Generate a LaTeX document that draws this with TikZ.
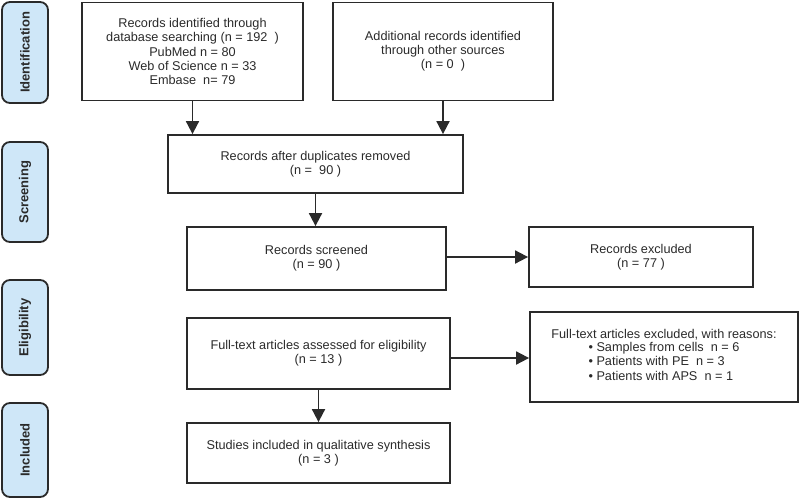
\documentclass[tikz,border=0pt]{standalone}
\usepackage{fontspec}
\setmainfont{Liberation Sans}
\usetikzlibrary{arrows.meta}
\definecolor{sidefill}{HTML}{CFE7F8}
\definecolor{ink}{HTML}{2A2A2A}
\begin{document}
\begin{tikzpicture}[x=1pt,y=-1pt,
  box/.style={draw=ink,line width=1.8pt,align=center,inner sep=2pt,font=\fontsize{12.7}{14.2}\selectfont,text=ink},
  side/.style={draw=ink,line width=1.8pt,fill=sidefill,rounded corners=8pt,rotate=90,minimum height=46pt,inner sep=0pt,font=\bfseries\fontsize{13}{15}\selectfont,text=ink},
  arr/.style={draw=ink,line width=1.8pt,-{Triangle[length=13pt,width=13pt]}}]
\useasboundingbox (0,0) rectangle (800,501);
% side labels
\node[side,minimum width=101pt] (sid) at (25,52.5) {Identification};
\node[side,minimum width=100pt] (sscr) at (25,192) {Screening};
\node[side,minimum width=95pt] (seli) at (25,327.5) {Eligibility};
\node[side,minimum width=94pt] (sinc) at (25,450) {Included};
% boxes
\node[box,minimum width=221pt,minimum height=98pt] (b1) at (192.5,51.5)
  {Records identified through\\database searching (n = 192\ \ )\\PubMed n = 80\\Web of Science n = 33\\Embase\ \ n= 79};
\node[box,minimum width=220pt,minimum height=98pt] (b2) at (443,51.5)
  {Additional records identified\\through other sources\\(n = 0\ \ )};
\node[box,minimum width=295pt,minimum height=58pt] (dup) at (315.5,164)
  {Records after duplicates removed\\(n =\ \ 90 )};
\node[box,minimum width=259pt,minimum height=63pt] (scr) at (316.5,258.5)
  {Records screened\\(n = 90 )};
\node[box,minimum width=224pt,minimum height=60pt] (exc) at (641,257)
  {Records excluded\\(n = 77 )};
\node[box,minimum width=263pt,minimum height=71pt] (ft) at (318.5,353.5)
  {Full-text articles assessed for eligibility\\(n = 13 )};
\node[box,minimum width=263pt,minimum height=60pt] (stu) at (318.5,453)
  {Studies included in qualitative synthesis\\(n = 3 )};
\node[box,minimum width=268pt,minimum height=90pt,font=\fontsize{12.7}{14.8}\selectfont] (rea) at (664,357)
  {Full-text articles excluded, with reasons:\\
   \begin{tabular}{@{}l@{}}
   \textbullet\ Samples from cells\ \ n = 6\\
   \textbullet\ Patients with PE\ \ n = 3\\
   \textbullet\ Patients with APS\ \ n = 1
   \end{tabular}};
% arrows
\draw[arr] (b1.south) -- (b1.south |- dup.north);
\draw[arr] (b2.south) -- (b2.south |- dup.north);
\draw[arr] (dup.south) -- (dup.south |- scr.north);
\draw[arr] ([yshift=1.5pt]scr.east) -- ([yshift=1.5pt]scr.east -| exc.west);
\draw[arr] (ft.south) -- (ft.south |- stu.north);
\draw[arr] ([yshift=-4.5pt]ft.east) -- ([yshift=-4.5pt]ft.east -| rea.west);
\end{tikzpicture}
\end{document}
